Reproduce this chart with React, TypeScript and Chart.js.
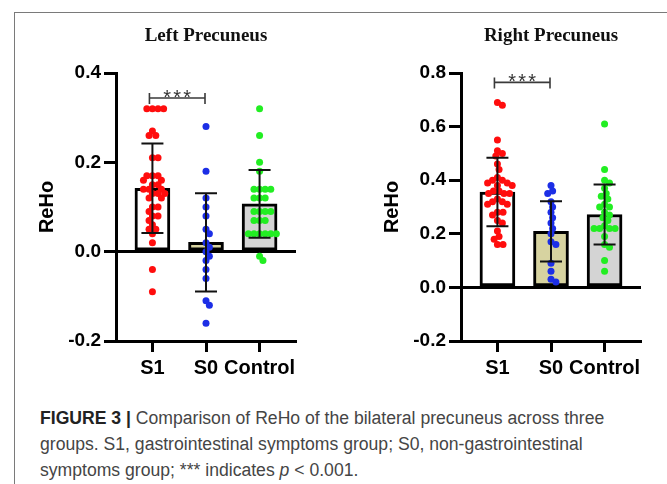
import React, { useEffect, useRef } from 'react';
import { Chart, registerables } from 'chart.js';

Chart.register(...registerables);

// ---------- data ----------
const categories = ['S1', 'S0', 'Control'];

const leftS1 = [0.32, 0.32, 0.32, 0.32, 0.27, 0.26, 0.26, 0.21, 0.21, 0.17, 0.17, 0.17, 0.16, 0.16, 0.15, 0.15, 0.14, 0.14, 0.14, 0.13, 0.13, 0.13, 0.12, 0.12, 0.10, 0.10, 0.09, 0.08, 0.08, 0.07, 0.06, 0.05, 0.05, 0.04, 0.02, -0.04, -0.09];
const leftS0 = [0.28, 0.18, 0.12, 0.10, 0.08, 0.05, 0.04, 0.02, 0.01, 0.0, -0.01, -0.02, -0.04, -0.06, -0.11, -0.12, -0.16];
const leftControl = [0.32, 0.26, 0.20, 0.18, 0.14, 0.14, 0.14, 0.14, 0.12, 0.12, 0.12, 0.09, 0.09, 0.09, 0.09, 0.07, 0.07, 0.07, 0.04, 0.04, 0.04, 0.04, 0.04, 0.04, -0.01, -0.02];
const leftMeans = [0.142, 0.021, 0.107];
const leftSD = [0.100, 0.110, 0.076];
const leftTicks = [-0.2, 0, 0.2, 0.4];

const rightS1 = [0.69, 0.68, 0.55, 0.51, 0.50, 0.49, 0.46, 0.44, 0.41, 0.40, 0.40, 0.39, 0.39, 0.38, 0.38, 0.36, 0.36, 0.35, 0.35, 0.35, 0.33, 0.32, 0.32, 0.31, 0.31, 0.28, 0.28, 0.27, 0.25, 0.24, 0.21, 0.19, 0.18, 0.16, 0.16];
const rightS0 = [0.38, 0.36, 0.35, 0.32, 0.30, 0.28, 0.26, 0.24, 0.22, 0.20, 0.17, 0.16, 0.09, 0.06, 0.03, 0.02];
const rightControl = [0.61, 0.44, 0.40, 0.39, 0.37, 0.35, 0.34, 0.33, 0.31, 0.30, 0.30, 0.28, 0.27, 0.26, 0.25, 0.23, 0.22, 0.22, 0.22, 0.22, 0.19, 0.16, 0.15, 0.10, 0.06];
const rightMeans = [0.356, 0.209, 0.272];
const rightSD = [0.128, 0.112, 0.112];
const rightTicks = [-0.2, 0, 0.2, 0.4, 0.6, 0.8];

const leftSig = { from: 0, to: 1, y: 0.344, label: '***' };
const rightSig = { from: 0, to: 1, y: 0.765, label: '***' };

// ---------- styles ----------
const barFills = ['#ffffff', '#d7d3a0', '#d4d4d4'];
const pointColors = ['#ff0d0d', '#1c2ee6', '#22ee22'];
const sansBold = (size: number) => ({ family: '"Liberation Sans", Arial, sans-serif', size, weight: 'bold' as const });

function beeswarm(py: number[], d: number): number[] {
  const idx = py.map((_, i) => i).sort((a, b) => py[a] - py[b]);
  const placed: { x: number; y: number }[] = [];
  const out = new Array(py.length).fill(0);
  for (const i of idx) {
    const y = py[i];
    const cands = [0];
    for (const p of placed) {
      const dy = Math.abs(p.y - y);
      if (dy < d) {
        const dx = Math.sqrt(d * d - dy * dy);
        cands.push(p.x + dx, p.x - dx);
      }
    }
    cands.sort((a, b) => Math.abs(a) - Math.abs(b));
    let chosen = 0;
    for (const c of cands) {
      if (placed.every((p) => (p.x - c) ** 2 + (p.y - y) ** 2 >= d * d - 0.01)) {
        chosen = c;
        break;
      }
    }
    placed.push({ x: chosen, y });
    out[i] = chosen;
  }
  return out;
}

const overlayPlugin = {
  id: 'overlay',
  afterDatasetsDraw(chart: any, _args: any, opts: any) {
    const { ctx, chartArea } = chart;
    const xs = chart.scales.x;
    const ys = chart.scales.y;
    ctx.save();
    // error bars
    ctx.strokeStyle = '#111';
    ctx.lineWidth = 2;
    opts.means.forEach((m: number, i: number) => {
      const cx = xs.getPixelForValue(i);
      const top = ys.getPixelForValue(m + opts.sds[i]);
      const bot = ys.getPixelForValue(m - opts.sds[i]);
      ctx.beginPath();
      ctx.moveTo(cx, top);
      ctx.lineTo(cx, bot);
      ctx.moveTo(cx - 11, top);
      ctx.lineTo(cx + 11, top);
      ctx.moveTo(cx - 11, bot);
      ctx.lineTo(cx + 11, bot);
      ctx.stroke();
    });
    // significance bracket
    const s = opts.sig;
    const x1 = xs.getPixelForValue(s.from) - 3;
    const x2 = xs.getPixelForValue(s.to) - 1;
    const by = ys.getPixelForValue(s.y);
    ctx.strokeStyle = '#3a3a3a';
    ctx.lineWidth = 1.6;
    ctx.beginPath();
    ctx.moveTo(x1, by);
    ctx.lineTo(x2, by);
    ctx.moveTo(x1, by - 5);
    ctx.lineTo(x1, by + 6);
    ctx.moveTo(x2, by - 5);
    ctx.lineTo(x2, by + 6);
    ctx.stroke();
    ctx.fillStyle = '#333';
    ctx.font = '20px "Liberation Sans", Arial, sans-serif';
    ctx.textAlign = 'center';
    ctx.textBaseline = 'alphabetic';
    const mid = (x1 + x2) / 2;
    [-10, 0, 10].forEach((dx) => ctx.fillText('*', mid + dx, by + 6));
    // title
    ctx.fillStyle = '#111';
    ctx.font = 'bold 19px "Liberation Serif", "Times New Roman", serif';
    ctx.fillText(opts.title, (chartArea.left + chartArea.right) / 2, chartArea.top - 32);
    ctx.restore();
  },
};

type PanelProps = {
  title: string;
  groups: number[][];
  means: number[];
  sds: number[];
  yTicks: number[];
  sig: { from: number; to: number; y: number; label: string };
  left: number;
};

function Panel({ title, groups, means, sds, yTicks, sig, left }: PanelProps) {
  const ref = useRef<HTMLCanvasElement>(null);
  useEffect(() => {
    const canvas = ref.current;
    if (!canvas) return;
    const datasets: any[] = [
      {
        type: 'bar',
        data: means.map((m, i) => ({ x: i, y: m })),
        backgroundColor: barFills,
        borderColor: '#000',
        borderWidth: 3,
        borderSkipped: false,
        barThickness: 35,
        order: 3,
      },
      ...groups.map((vals, gi) => ({
        type: 'scatter',
        data: vals.map((v) => ({ x: gi, y: v })),
        backgroundColor: pointColors[gi],
        borderWidth: 0,
        pointRadius: 3.5,
        pointHoverRadius: 3.5,
        order: 1,
      })),
    ];
    const chart = new Chart(canvas, {
      type: 'bar',
      data: { datasets },
      plugins: [overlayPlugin],
      options: {
        responsive: false,
        animation: false,
        layout: { padding: { left: 31, right: 26, top: 73, bottom: 14 } },
        plugins: {
          legend: { display: false },
          tooltip: { enabled: false },
          overlay: { means, sds, sig, title },
        } as any,
        scales: {
          x: {
            type: 'linear',
            offset: false,
            min: -0.68,
            max: 2.68,
            afterBuildTicks: (s: any) => {
              s.ticks = categories.map((_, i) => ({ value: i }));
            },
            afterFit: (s: any) => {
              s.height = 45;
            },
            ticks: {
              callback: (v: any) => categories[Math.round(Number(v))],
              font: sansBold(20),
              color: '#000',
              padding: 4,
              autoSkip: false,
              maxRotation: 0,
            },
            grid: { offset: false, drawOnChartArea: false, tickLength: 11, tickWidth: 3, tickColor: '#000' },
            border: { display: true, color: '#000', width: 3 },
          },
          y: {
            type: 'linear',
            min: yTicks[0],
            max: yTicks[yTicks.length - 1],
            afterBuildTicks: (s: any) => {
              s.ticks = yTicks.map((v) => ({ value: v }));
            },
            afterFit: (s: any) => {
              s.width = 85;
            },
            ticks: {
              callback: (v: any) => (Math.abs(Number(v)) < 1e-9 ? '0.0' : Number(v).toFixed(1)),
              font: sansBold(19),
              color: '#000',
              padding: 3,
            },
            grid: {
              color: (c: any) => (c.tick && Math.abs(c.tick.value) < 1e-9 ? '#000' : 'rgba(0,0,0,0)'),
              lineWidth: 3,
              tickLength: 12,
              tickWidth: 3,
              tickColor: '#000',
            },
            border: { display: true, color: '#000', width: 3 },
            title: {
              display: true,
              text: 'ReHo',
              font: sansBold(20),
              color: '#000',
              padding: { top: 4, bottom: 4 },
            },
          },
        },
      } as any,
    });
    // beeswarm horizontal spreading computed from the chart's own scales
    const xs: any = chart.scales.x;
    const ys: any = chart.scales.y;
    const pxPerUnit = xs.getPixelForValue(1) - xs.getPixelForValue(0);
    groups.forEach((vals, gi) => {
      const offs = beeswarm(vals.map((v) => ys.getPixelForValue(v)), 5.6);
      (chart.data.datasets[gi + 1] as any).data = vals.map((v, i) => ({ x: gi + offs[i] / pxPerUnit, y: v }));
    });
    chart.update();
    return () => chart.destroy();
  }, []);
  return (
    <canvas
      ref={ref}
      width={322}
      height={400}
      style={{ position: 'absolute', left, top: 0, width: 322, height: 400 }}
    />
  );
}

export default function App() {
  return (
    <div
      style={{
        position: 'absolute',
        left: 0,
        top: 0,
        width: 667,
        height: 484,
        background: '#fff',
        overflow: 'hidden',
      }}
    >
      <div
        style={{
          position: 'absolute',
          left: 14,
          top: 12,
          width: 700,
          height: 500,
          borderTop: '1px solid #7a7a7a',
          borderLeft: '1px solid #7a7a7a',
        }}
      />
      <Panel title="Left Precuneus" groups={[leftS1, leftS0, leftControl]} means={leftMeans} sds={leftSD} yTicks={leftTicks} sig={leftSig} left={0} />
      <Panel title="Right Precuneus" groups={[rightS1, rightS0, rightControl]} means={rightMeans} sds={rightSD} yTicks={rightTicks} sig={rightSig} left={345} />
      <div
        style={{
          position: 'absolute',
          left: 40,
          top: 405,
          fontFamily: '"Liberation Sans", Arial, sans-serif',
          fontSize: 17.6,
          lineHeight: '26px',
          color: '#454545',
          whiteSpace: 'nowrap',
        }}
      >
        <span style={{ fontWeight: 'bold', color: '#222' }}>FIGURE 3 |</span> Comparison of ReHo of the bilateral precuneus across three
        <br />
        groups. S1, gastrointestinal symptoms group; S0, non-gastrointestinal
        <br />
        symptoms group; *** indicates <i>p</i> &lt; 0.001.
      </div>
    </div>
  );
}
